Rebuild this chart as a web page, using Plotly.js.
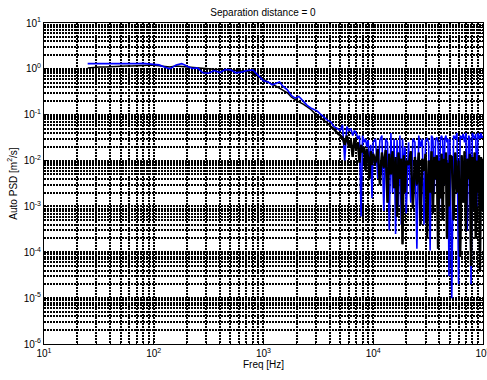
<!DOCTYPE html>
<html><head><meta charset="utf-8">
<script src="https://cdn.plot.ly/plotly-3.0.1.min.js"></script>
<style>html,body{margin:0;padding:0;background:#fff;}#chart{width:487px;height:380px;}</style>
</head><body><div id="chart"></div>
<script>
const freq = [
 25,28,32,36,40,45,50,56,63,71,80,90,100,112,125,140,160,180,200,225,250,280,315,355,400,450,500,560,630,710,800,900,1000,
 1100,1200,1300,1400,1500,1650,1800,1950,2100,2300,2500,2700,2900,3100,3350,3600,3850,4100,4400,4700,5000,
 5250,5500,5750,6000,6250,6500,6750,7000,7250,7500,7750,8000,8250,8500,8750,9000,9250,9500,9750,10000,
 10500,11000,11500,12000,12500,13000,13500,14000,14500,15000,15500,16000,16500,17000,17500,18000,18500,19000,19500,20000,
 21000,22000,23000,24000,25000,26000,27000,28000,29000,30000,31000,32000,33000,34000,35000,36000,37000,38000,39000,40000,41000,42000,43000,44000,45000,46000,47000,48000,49000,50000,
 52000,54000,56000,58000,60000,62000,64000,66000,68000,70000,72000,74000,76000,78000,80000,82000,84000,86000,88000,90000,92000,94000,96000,98000,100000
];
const psdBlack = [
 1.05,1.08,1.1,1.1,1.12,1.12,1.15,1.15,1.15,1.18,1.18,1.2,1.2,1.18,1.15,1.1,1.15,1.12,1.08,1.05,1.02,1.0,1.0,0.98,0.97,0.98,0.95,0.92,0.9,0.88,0.8,0.68,0.58,
 0.5,0.46,0.42,0.38,0.35,0.3,0.24,0.21,0.19,0.17,0.15,0.13,0.11,0.098,0.085,0.075,0.065,0.055,0.048,0.04,0.035,
 0.032,0.022,0.035,0.02,0.028,0.012,0.03,0.018,0.025,0.009,0.022,0.015,0.02,0.006,0.018,0.011,0.004,0.016,0.008,0.014,
 0.009,0.018,0.003,0.015,0.007,0.017,0.0012,0.014,0.005,0.016,0.0025,0.012,0.0006,0.015,0.004,0.011,0.00015,0.013,0.002,0.01,
 0.008,0.016,0.0009,0.012,0.003,0.015,0.0004,0.011,0.006,0.014,0.0002,0.01,0.002,0.016,0.0007,0.012,0.004,0.013,0.00012,0.01,0.0015,0.014,0.0005,0.011,0.003,0.015,0.0002,0.009,0.001,0.013,
 0.012,0.0005,0.015,0.002,0.01,0.00008,0.013,0.0012,0.016,0.0003,0.011,0.004,0.014,0.00005,0.012,0.0009,0.015,0.0002,0.01,0.002,0.013,0.00004,0.012,0.0008,0.011
];
const psdBlue = [
 1.3,1.3,1.28,1.28,1.27,1.27,1.28,1.28,1.3,1.3,1.32,1.3,1.28,1.22,1.1,1.0,1.22,1.3,1.15,1.02,1.05,0.82,0.8,0.92,0.83,0.97,0.95,0.82,0.85,0.92,0.95,0.7,0.55,
 0.52,0.45,0.48,0.52,0.42,0.35,0.26,0.23,0.25,0.2,0.16,0.14,0.13,0.12,0.1,0.085,0.075,0.07,0.055,0.05,0.045,
 0.06,0.01,0.055,0.045,0.05,0.035,0.045,0.04,0.03,0.035,0.0006,0.035,0.025,0.03,0.02,0.028,0.006,0.022,0.0015,0.025,
 0.03,0.004,0.028,0.035,0.0008,0.03,0.025,0.0003,0.04,0.002,0.03,0.00025,0.028,0.001,0.035,0.0004,0.03,0.005,0.02,0.0007,
 0.025,0.0012,0.03,0.025,0.00012,0.035,0.02,0.03,0.0004,0.028,0.03,0.025,0.00011,0.035,0.03,0.002,0.028,0.032,0.025,0.0008,0.03,0.035,0.028,0.003,0.03,0.035,0.025,0.03,0.00003,0.03,
 0.00001,0.035,0.03,0.04,0.00002,0.035,0.03,0.038,0.025,0.04,0.0003,0.035,0.03,0.00002,0.04,0.035,0.03,0.038,0.001,0.04,0.035,0.03,0.04,0.03,0.035
];
const xTickVals = [10,100,1000,10000,100000];
const xTickText = ['10<sup>1</sup>','10<sup>2</sup>','10<sup>3</sup>','10<sup>4</sup>','10<sup>5</sup>'];
const yTickVals = [1e-6,1e-5,1e-4,1e-3,1e-2,1e-1,1,10];
const yTickText = ['10<sup>-6</sup>','10<sup>-5</sup>','10<sup>-4</sup>','10<sup>-3</sup>','10<sup>-2</sup>','10<sup>-1</sup>','10<sup>0</sup>','10<sup>1</sup>'];

// the noisy upper band of the black series is drawn again over the blue one
const noiseStart = 4000;
const hiIdx = freq.map((f, i) => i).filter(i => freq[i] >= noiseStart);

const font = {family:'Liberation Sans, Arial, sans-serif', size:10, color:'#000'};
const gridDash = '2px,1px';
const axisCommon = {
  type:'log', showline:true, linecolor:'#000', linewidth:1, mirror:'ticks',
  ticks:'inside', ticklen:4, tickcolor:'#000', tickmode:'array', ticklabeloverflow:'allow',
  showgrid:true, gridcolor:'#000', gridwidth:2, griddash:gridDash,
  zeroline:false, tickfont:font,
  minor:{dtick:'D1', showgrid:true, gridcolor:'#000', gridwidth:2, griddash:gridDash, ticks:'inside', ticklen:2, tickcolor:'#000'}
};
const traces = [
  {x:freq, y:psdBlack, type:'scatter', mode:'lines', line:{color:'#000000', width:1.5}, hoverinfo:'skip'},
  {x:freq, y:psdBlue, type:'scatter', mode:'lines', line:{color:'#0000ff', width:1.6}, hoverinfo:'skip'},
  {x:hiIdx.map(i => freq[i]), y:hiIdx.map(i => psdBlack[i]), type:'scatter', mode:'lines', line:{color:'#000000', width:2.4}, hoverinfo:'skip'}
];
const layout = {
  width:487, height:380, showlegend:false,
  paper_bgcolor:'#fff', plot_bgcolor:'#fff', font:font,
  margin:{l:44, r:4, t:23, b:36},
  title:{text:'Separation distance = 0', font:{family:font.family, size:10, color:'#000'}, x:0.54, xref:'container', y:0.966, yref:'container', yanchor:'middle'},
  xaxis:Object.assign({}, axisCommon, {range:[1,5.0005], tickvals:xTickVals, ticktext:xTickText,
    title:{text:'Freq [Hz]', font:font, standoff:2}}),
  yaxis:Object.assign({}, axisCommon, {range:[-6,1], tickvals:yTickVals, ticktext:yTickText,
    title:{text:'Auto PSD [m<sup>2</sup>/s]', font:font, standoff:4}})
};
Plotly.newPlot('chart', traces, layout, {staticPlot:true, displayModeBar:false});
</script></body></html>
